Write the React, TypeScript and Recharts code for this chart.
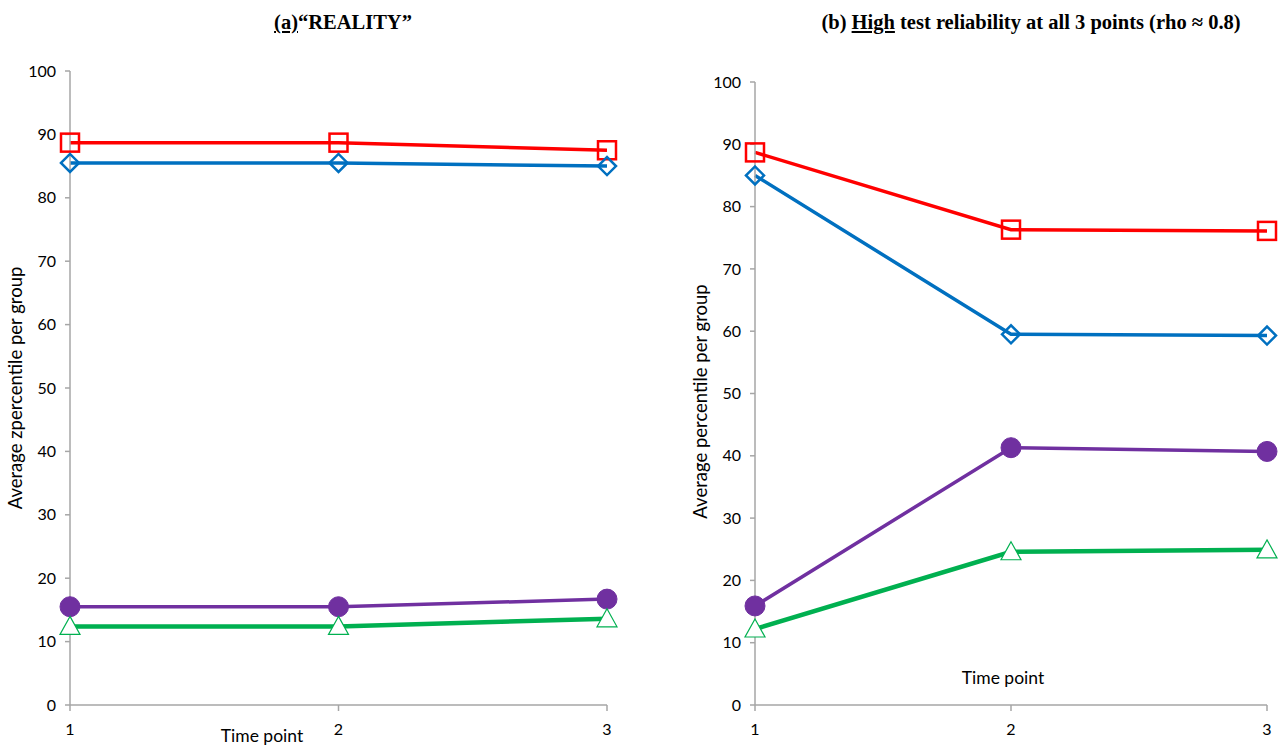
import React from 'react';
import { LineChart, Line, XAxis, YAxis } from 'recharts';

const timePoints = [1, 2, 3];
const yTicks = [0, 10, 20, 30, 40, 50, 60, 70, 80, 90, 100];

// Panel (a) REALITY
const realityRed = [88.7, 88.7, 87.5];
const realityBlue = [85.5, 85.5, 85.0];
const realityPurple = [15.5, 15.5, 16.7];
const realityGreen = [12.4, 12.4, 13.6];

// Panel (b) High reliability
const highRed = [88.7, 76.3, 76.1];
const highBlue = [85.0, 59.5, 59.3];
const highPurple = [15.9, 41.3, 40.7];
const highGreen = [12.2, 24.6, 24.9];

const RED = '#FF0000';
const BLUE = '#0070C0';
const PURPLE = '#7030A0';
const GREEN = '#00B050';
const AXIS = '#A6A6A6';
const FONT = 'Lato, "Open Sans", sans-serif';

const build = (r: number[], b: number[], p: number[], g: number[]) =>
  timePoints.map((t, i) => ({ t, red: r[i], blue: b[i], purple: p[i], green: g[i] }));

const dataA = build(realityRed, realityBlue, realityPurple, realityGreen);
const dataB = build(highRed, highBlue, highPurple, highGreen);

const SquareDot = (props: any) => {
  const { cx, cy, index } = props;
  if (cx == null || cy == null) return null;
  return <rect key={`sq${index}`} x={cx - 9} y={cy - 9} width={18} height={18} fill="none" stroke={RED} strokeWidth={2.5} />;
};
const DiamondDot = (props: any) => {
  const { cx, cy, index } = props;
  if (cx == null || cy == null) return null;
  const s = 9;
  return (
    <path key={`dm${index}`} d={`M${cx - s},${cy} L${cx},${cy - s} L${cx + s},${cy} L${cx},${cy + s} Z`} fill="none" stroke={BLUE} strokeWidth={2.5} />
  );
};
const CircleDot = (props: any) => {
  const { cx, cy, index } = props;
  if (cx == null || cy == null) return null;
  return <circle key={`ci${index}`} cx={cx} cy={cy} r={10} fill={PURPLE} stroke={PURPLE} strokeWidth={1} />;
};
const TriangleDot = (props: any) => {
  const { cx, cy, index } = props;
  if (cx == null || cy == null) return null;
  return (
    <path key={`tr${index}`} d={`M${cx},${cy - 10} L${cx + 10},${cy + 8} L${cx - 10},${cy + 8} Z`} fill="#FFFFFF" stroke={GREEN} strokeWidth={1.2} />
  );
};

const tickStyle = { fontSize: 16, fill: '#000', fontFamily: FONT };

const YLabel = (text: string, dx: number, cyOffset: number) => (props: any) => {
  const vb = props.viewBox;
  const x = vb.x + dx;
  const y = vb.y + vb.height / 2 + cyOffset;
  return (
    <text x={x} y={y} transform={`rotate(-90, ${x}, ${y})`} textAnchor="middle" dominantBaseline="central" fontSize={18.5} fontFamily={FONT} fill="#000">
      {text}
    </text>
  );
};

const XLabel = (text: string, xPos: number, yOff: number) => (props: any) => {
  const vb = props.viewBox;
  const x = vb.x + xPos;
  const y = vb.y + yOff;
  return (
    <text x={x} y={y} textAnchor="middle" dominantBaseline="central" fontSize={17.5} fontFamily={FONT} fill="#000">
      {text}
    </text>
  );
};

function Panel({ data, width, marginLeft, marginTop, marginRight, yLabel, yLabelDx, yLabelDy, xLabelX, xLabelY }: any) {
  return (
    <LineChart width={width} height={746} data={data} margin={{ top: marginTop, right: marginRight, bottom: 11, left: marginLeft }}>
      <XAxis
        dataKey="t"
        type="number"
        domain={[1, 3]}
        ticks={timePoints}
        interval={0}
        allowDecimals={false}
        stroke={AXIS}
        strokeWidth={1.5}
        tickLine={{ stroke: AXIS }}
        tickSize={6}
        tickMargin={13}
        height={30}
        tick={tickStyle}
        label={{ content: XLabel('Time point', xLabelX, xLabelY) }}
      />
      <YAxis
        type="number"
        domain={[0, 100]}
        ticks={yTicks}
        interval={0}
        width={70}
        stroke={AXIS}
        strokeWidth={1.5}
        tickLine={{ stroke: AXIS }}
        tickSize={5}
        tickMargin={9}
        tick={tickStyle}
        label={{ content: YLabel(yLabel, yLabelDx, yLabelDy) }}
      />
      <Line dataKey="red" stroke={RED} strokeWidth={3.5} dot={SquareDot} isAnimationActive={false} />
      <Line dataKey="blue" stroke={BLUE} strokeWidth={3.5} dot={DiamondDot} isAnimationActive={false} />
      <Line dataKey="purple" stroke={PURPLE} strokeWidth={3.5} dot={CircleDot} isAnimationActive={false} />
      <Line dataKey="green" stroke={GREEN} strokeWidth={4.5} dot={TriangleDot} isAnimationActive={false} />
    </LineChart>
  );
}

export default function App() {
  const titleStyle: React.CSSProperties = {
    position: 'absolute',
    top: 11,
    fontFamily: '"Liberation Serif", "Times New Roman", serif',
    fontWeight: 'bold',
    fontSize: 20.5,
    color: '#000',
    whiteSpace: 'nowrap',
    transform: 'translateX(-50%)',
  };
  return (
    <div style={{ position: 'absolute', left: 0, top: 0, width: 1278, height: 746, background: '#fff', overflow: 'hidden' }}>
      <div style={{ ...titleStyle, left: 343 }}>
        <u>(a)</u>“REALITY”
      </div>
      <div style={{ ...titleStyle, left: 1031 }}>
        (b) <u>High</u> test reliability at all 3 points (rho ≈ 0.8)
      </div>
      <div style={{ position: 'absolute', left: 0, top: 0 }}>
        <Panel data={dataA} width={640} marginLeft={0} marginTop={71} marginRight={33} yLabel="Average zpercentile per group" yLabelDx={15} yLabelDy={0} xLabelX={192} xLabelY={30} />
      </div>
      <div style={{ position: 'absolute', left: 640, top: 0 }}>
        <Panel data={dataB} width={638} marginLeft={45} marginTop={82} marginRight={11} yLabel="Average percentile per group" yLabelDx={15} yLabelDy={8} xLabelX={248} xLabelY={-28} />
      </div>
    </div>
  );
}
